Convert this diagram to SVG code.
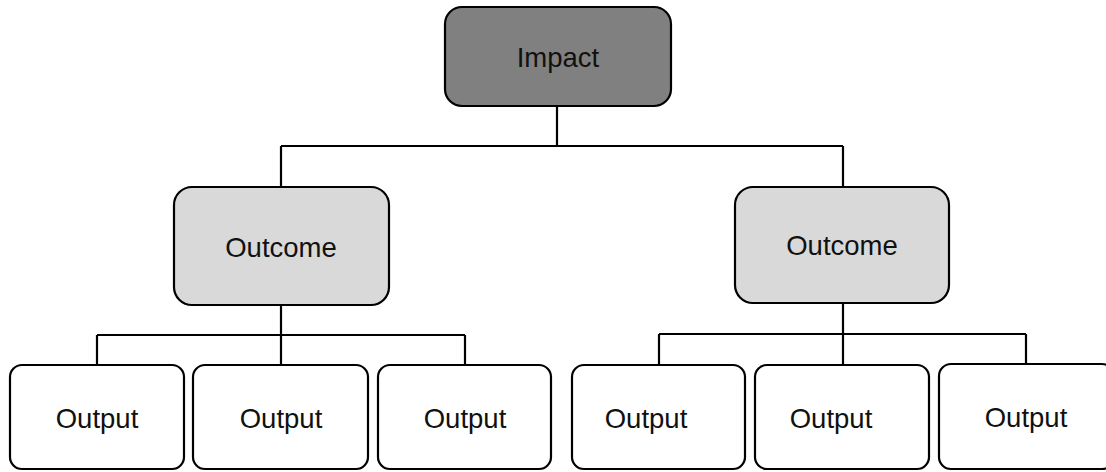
<svg xmlns="http://www.w3.org/2000/svg" width="1106" height="472" viewBox="0 0 1106 472">
<style>
.box{stroke:#000;stroke-width:2.2}
.impact{fill:#808080}
.outcome{fill:#d9d9d9}
.output{fill:#fff}
text{font-family:"Liberation Sans",Arial,sans-serif;font-size:27.5px;fill:#111;text-anchor:middle}
.conn{fill:none;stroke:#000;stroke-width:2.2}
</style>
<rect width="1106" height="472" fill="#fff"/>
<g id="connectors" class="conn">
<path d="M557,106 V146 M281,146 H843 M281,146 V187 M843,146 V187"/>
<path d="M281,305 V335 M97,335 H465 M97,335 V365 M281,335 V365 M465,335 V365"/>
<path d="M843,303 V334 M659,334 H1026 M659,334 V365 M843,334 V365 M1026,334 V364"/>
</g>
<g id="impact"><rect class="box impact" x="445" y="7" width="226" height="99" rx="17"/><text x="558" y="67">Impact</text></g>
<g id="outcome1"><rect class="box outcome" x="174" y="187" width="215" height="118" rx="18"/><text x="281" y="257">Outcome</text></g>
<g id="outcome2"><rect class="box outcome" x="735" y="187" width="214" height="116" rx="18"/><text x="842" y="255">Outcome</text></g>
<g id="output1"><rect class="box output" x="10" y="365" width="174" height="104" rx="12"/><text x="97" y="428">Output</text></g>
<g id="output2"><rect class="box output" x="193" y="365" width="175" height="104" rx="12"/><text x="281" y="428">Output</text></g>
<g id="output3"><rect class="box output" x="378" y="365" width="173" height="104" rx="12"/><text x="465" y="428">Output</text></g>
<g id="output4"><rect class="box output" x="572" y="365" width="173" height="104" rx="12"/><text x="646" y="428">Output</text></g>
<g id="output5"><rect class="box output" x="755" y="365" width="174" height="104" rx="12"/><text x="831" y="428">Output</text></g>
<g id="output6"><rect class="box output" x="939" y="364" width="175" height="105" rx="12"/><text x="1026" y="427">Output</text></g>
</svg>
